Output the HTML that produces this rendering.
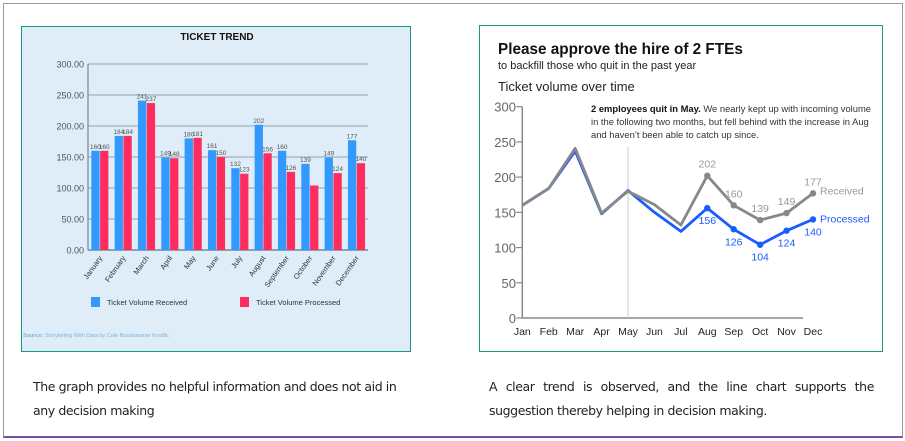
<!DOCTYPE html>
<html><head><meta charset="utf-8">
<style>
body{margin:0;width:905px;height:441px;background:#fff;position:relative;overflow:hidden;font-family:"Liberation Sans",sans-serif}
.frame{position:absolute;left:3px;top:3px;width:898px;height:432px;border:1px solid #999;border-bottom:2px solid #7a4fa8}
.panel{position:absolute;border:1.5px solid #1a9a7a}
.note{position:absolute;font-family:"DejaVu Sans","Liberation Sans",sans-serif;font-size:12.5px;color:#222;line-height:24px;letter-spacing:-0.4px}
</style></head><body>
<div class="frame"></div>
<div class="panel" style="left:21px;top:26px;width:388px;height:324px;background:#deedf7"></div>
<div class="panel" style="left:479px;top:25px;width:402px;height:325px;background:#fff"></div>
<svg id="bar" width="905" height="441" style="position:absolute;left:0;top:0"></svg>
<svg id="line" width="905" height="441" style="position:absolute;left:0;top:0"></svg>
<div class="note" style="left:33px;top:375px;width:370px">The graph provides no helpful information and does not aid in any decision making</div>
<div class="note" style="left:489px;top:375px;width:385px;text-align:justify">A clear trend is observed, and the line chart supports the suggestion thereby helping in decision making.</div>
<script>
const monthsLong=["January","February","March","April","May","June","July","August","September","October","November","December"];
const monthsShort=["Jan","Feb","Mar","Apr","May","Jun","Jul","Aug","Sep","Oct","Nov","Dec"];
const received=[160,184,241,149,180,161,132,202,160,139,149,177];
const processed=[160,184,237,148,181,150,123,156,126,104,124,140];
const barTicks=[0,50,100,150,200,250,300];
const lineTicks=[0,50,100,150,200,250,300];
const NS="http://www.w3.org/2000/svg";
function mk(svg,tag,attrs,text){const e=document.createElementNS(NS,tag);for(const k in attrs)e.setAttribute(k,attrs[k]);if(text!==undefined)e.textContent=text;svg.appendChild(e);return e;}

// ---- bar chart ----
const B=document.getElementById('bar');
const bx0=88,bx1=368,by0=250,by1=64;
const bY=v=>by0-(v/300)*(by0-by1);
const gw=(bx1-bx0)/12;
const bX=i=>bx0+i*gw;
let t=mk(B,'text',{x:217,y:40,'text-anchor':'middle','font-size':10,'font-weight':'bold',fill:'#111'},'TICKET TREND');

barTicks.forEach(v=>{
  let g=mk(B,'line',{x1:bx0,x2:bx1,y1:bY(v),y2:bY(v),stroke:'#6f8a9c','stroke-width':v==0?1.5:0.8});
  
  let l=mk(B,'text',{x:84,y:bY(v)+3.5,'text-anchor':'end','font-size':9,fill:'#555'},v.toFixed(2));
  
});
let ax=mk(B,'line',{x1:bx0,x2:bx0,y1:by1,y2:by0,stroke:'#6f8a9c','stroke-width':1.2});

const bw=8.3;
received.forEach((v,i)=>{
  const x=bX(i)+3.3;
  let r=mk(B,'rect',{x:x,y:bY(v),width:bw,height:by0-bY(v),fill:'#3399ff'});
  
  let lt=mk(B,'text',{x:x+bw/2,y:bY(v)-2,'text-anchor':'middle','font-size':6.5,fill:'#555'},v);
  
  const p=processed[i];
  let r2=mk(B,'rect',{x:x+bw+0.5,y:bY(p),width:bw,height:by0-bY(p),fill:'#ff2d5e'});
  
  if(i!==9){let lp=mk(B,'text',{x:x+bw*1.5+0.5,y:bY(p)-2,'text-anchor':'middle','font-size':6.5,fill:'#555'},p);
  }
  let ml=mk(B,'text',{x:0,y:0,'text-anchor':'end','font-size':7.5,fill:'#333',transform:`translate(${x+bw+3},${by0+8}) rotate(-55)`},monthsLong[i]);
  
});
let lg1=mk(B,'rect',{x:91,y:297,width:9,height:10,fill:'#3399ff'});
let lt1=mk(B,'text',{x:107,y:305,'font-size':7.5,fill:'#333'},'Ticket Volume Received');
let lg2=mk(B,'rect',{x:240,y:297,width:9,height:10,fill:'#ff2d5e'});
let lt2=mk(B,'text',{x:256,y:305,'font-size':7.5,fill:'#333'},'Ticket Volume Processed');
let src=mk(B,'text',{x:23,y:337,'font-size':5.5,fill:'#7fb0d8'});src.innerHTML='<tspan font-weight="bold">Source:</tspan> Storytelling With Data by Cole Nussbaumer Knaflic';


// ---- line chart ----
const L=document.getElementById('line');
const lx0=522.3,lx1=813,ly0=318,ly1=106.7;
const lX=i=>lx0+i*(lx1-lx0)/11;
const lY=v=>ly0-(v/300)*(ly0-ly1);
let h1=mk(L,'text',{x:498,y:54,'font-size':15.3,'font-weight':'bold',fill:'#111'},'Please approve the hire of 2 FTEs');
let h2=mk(L,'text',{x:498,y:69,'font-size':11,fill:'#222'},'to backfill those who quit in the past year');
let h3=mk(L,'text',{x:498,y:91,'font-size':13,fill:'#222'},'Ticket volume over time');
lineTicks.forEach(v=>{
  let tk=mk(L,'line',{x1:lx0-6,x2:lx0,y1:lY(v),y2:lY(v),stroke:'#888','stroke-width':1.2});
  let tl=mk(L,'text',{x:516,y:lY(v)+5,'text-anchor':'end','font-size':13,fill:'#666'},v);
});
let ya=mk(L,'line',{x1:lx0,x2:lx0,y1:ly1,y2:ly0,stroke:'#888','stroke-width':1.5});
let xa=mk(L,'line',{x1:lx0,x2:lx1-10,y1:ly0,y2:ly0,stroke:'#888','stroke-width':1.5});
monthsShort.forEach((m,i)=>{let ml=mk(L,'text',{x:lX(i),y:335,'text-anchor':'middle','font-size':10.5,fill:'#222'},m);});
let vl=mk(L,'line',{x1:lX(4),x2:lX(4),y1:147,y2:ly0,stroke:'#ccc','stroke-width':1});
const ann=["<tspan font-weight='bold' fill='#111'>2 employees quit in May.</tspan> We nearly kept up with incoming volume","in the following two months, but fell behind with the increase in Aug","and haven’t been able to catch up since."];
ann.forEach((s,k)=>{let a=mk(L,'text',{x:591,y:112+k*13,'font-size':9.4,fill:'#333'});a.innerHTML=s;});
const path=arr=>arr.map((v,i)=>(i?'L':'M')+lX(i).toFixed(1)+' '+lY(v).toFixed(1)).join(' ');
let pp=mk(L,'path',{d:path(processed),fill:'none',stroke:'#1a5cff','stroke-width':2.8,'stroke-linejoin':'round'});
let pr=mk(L,'path',{d:path(received),fill:'none',stroke:'#888','stroke-width':2.8,'stroke-linejoin':'round'});
for(let i=7;i<12;i++){
  let c1=mk(L,'circle',{cx:lX(i),cy:lY(received[i]),r:3.2,fill:'#888'});
  let t1=mk(L,'text',{x:lX(i),y:lY(received[i])-8,'text-anchor':'middle','font-size':10.5,fill:'#999'},received[i]);
  let c2=mk(L,'circle',{cx:lX(i),cy:lY(processed[i]),r:3.2,fill:'#1a5cff'});
  let t2=mk(L,'text',{x:lX(i),y:lY(processed[i])+16,'text-anchor':'middle','font-size':10.5,fill:'#1a5cff'},processed[i]);
}
let rl=mk(L,'text',{x:820,y:lY(received[11])+1,'font-size':10.5,fill:'#999'},'Received');
let pl=mk(L,'text',{x:820,y:lY(processed[11])+3,'font-size':10.5,fill:'#1a5cff'},'Processed');
</script>
</body></html>
